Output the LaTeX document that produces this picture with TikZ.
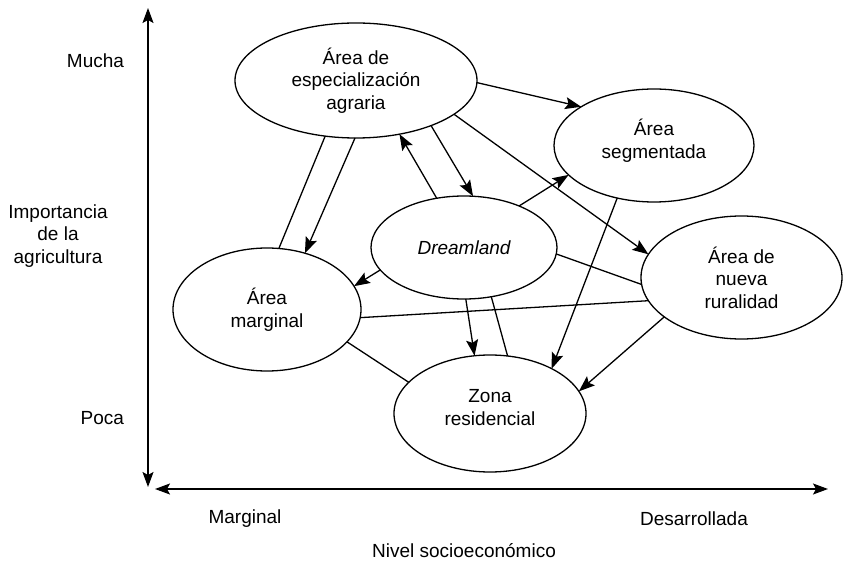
\documentclass[tikz,border=0pt]{standalone}
\usepackage{fontspec}
\setmainfont{Liberation Sans}
\usetikzlibrary{shapes.geometric,arrows.meta}
\begin{document}
\begin{tikzpicture}[x=1pt,y=-1pt,line width=1.3pt,
  every node/.style={font=\fontsize{19}{22.5}\selectfont},
  area/.style={ellipse,draw,inner sep=0pt,outer sep=0pt,align=center},
  inner/.style={align=center,font=\fontsize{19}{22.5}\selectfont},
  tip/.style={-{Stealth[length=16pt,width=12pt,inset=3pt]}},
  dtip/.style={{Stealth[length=15pt,width=11pt,inset=3pt]}-{Stealth[length=15pt,width=11pt,inset=3pt]}},
  lbl/.style={align=center}]
\useasboundingbox (0,0) rectangle (843,561);
% nodes
\node[area,minimum width=242pt,minimum height=115pt] (E) at (356,80.5) {Área de\\especialización\\agraria};
\node[area,minimum width=200pt,minimum height=113pt,
  label={[inner,yshift=5pt]center:Área\\segmentada}] (S) at (654,145.5) {};
\node[area,minimum width=186pt,minimum height=103pt] (D) at (464,247.5) {\itshape Dreamland};
\node[area,minimum width=188pt,minimum height=123pt] (M) at (267,309.5) {Área\\marginal};
\node[area,minimum width=192pt,minimum height=117pt,
  label={[inner,yshift=6pt]center:Zona\\residencial}] (Z) at (490,413.5) {};
\node[area,minimum width=201pt,minimum height=123pt] (N) at (741.5,277.5) {Área de\\nueva\\ruralidad};
% axes
\coordinate (ytop) at (148,8);
\coordinate (ybot) at (148,487);
\coordinate (xl) at (155,489);
\coordinate (xr) at (828,489);
\draw[dtip] (ybot) -- (ytop);
\draw[dtip] (xl) -- (xr);
% axis labels
\node[anchor=east] (mucha) at (128,61) {Mucha};
\node[anchor=east] (poca) at (128,418) {Poca};
\node[lbl] (imp) at (58,236) {Importancia\\de la\\agricultura};
\node (marg) at (245,519) {Marginal};
\node (desa) at (694,519) {Desarrollada};
\node (nivel) at (464,551) {Nivel socioeconómico};
% connectors
\draw[tip] (E.-1) -- (S.152.5);
\draw[tip] (E.-19.6) -- (N.166.7);
\draw[tip] (D.119) -- (E.-51.3);
\draw[tip] (E.-31.1) -- (D.80.5);
\draw (E.-119.4) -- (M.79.9);
\draw[tip] (E.-91) -- (M.56.5);
\draw[tip] (D.-165.2) -- (M.15);
\draw[tip] (D.37.7) -- (S.-161.3);
\draw (D.-4.6) -- (N.-176.8);
\draw (M.-5.2) -- (N.-166);
\draw (M.-22.1) -- (Z.159.8);
\draw[tip] (D.-88.9) -- (Z.105);
\draw (D.-61.4) -- (Z.73.8);
\draw[tip] (S.-125.2) -- (Z.36.4);
\draw[tip] (N.-153.9) -- (Z.14.3);
\end{tikzpicture}
\end{document}
